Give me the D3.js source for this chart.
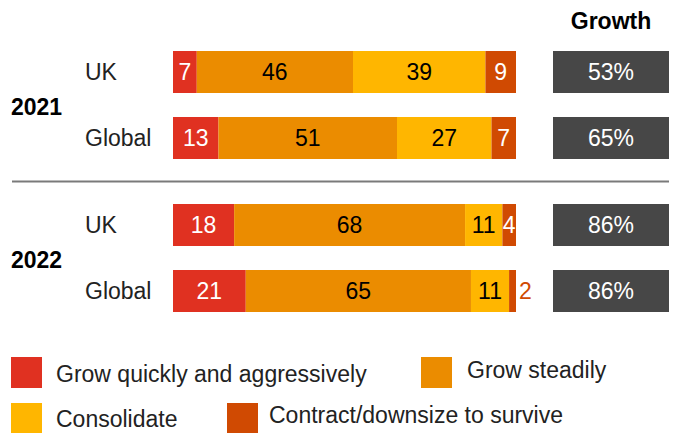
<!DOCTYPE html>
<html>
<head>
<meta charset="utf-8">
<script src="https://cdn.jsdelivr.net/npm/d3@7"></script>
<style>
  html, body { margin: 0; padding: 0; background: #fff; }
  svg { display: block; }
  text { font-family: "Liberation Sans", Arial, Helvetica, sans-serif; }
</style>
</head>
<body>
<svg id="chart" width="677" height="433"></svg>
<script>
// ---- data ----
const years = ["2021", "2022"];
const regions = ["UK", "Global"];
const seriesNames = ["Grow quickly and aggressively", "Grow steadily", "Consolidate", "Contract/downsize to survive"];
const growQuickly   = [7, 13, 18, 21];
const growSteadily  = [46, 51, 68, 65];
const consolidate   = [39, 27, 11, 11];
const contract      = [9, 7, 4, 2];
const growth        = [53, 65, 86, 86];
const growthTitle = "Growth";

const colors = ["#E03121", "#EB8C00", "#FFB600", "#D04A02"];
const labelColors = ["#fff", "#000", "#000", "#fff"];

const rows = [];
years.forEach((y, yi) => regions.forEach((r, ri) => {
  const i = yi * regions.length + ri;
  rows.push({ year: y, region: r, i,
    values: [growQuickly[i], growSteadily[i], consolidate[i], contract[i]],
    growth: growth[i] });
}));

const svg = d3.select("#chart");

// scales
const yGroup = d3.scaleBand().domain(years).range([40, 346]);
const yInner = d3.scaleBand().domain(regions).range([11, 119]).paddingInner(24 / 66).paddingOuter(0);
const x = d3.scaleLinear().domain([0, 1]).range([173, 516]);
const rowY = d => yGroup(d.year) + yInner(d.region);
const bh = yInner.bandwidth();

// separator
const sepY = ((yGroup("2021") + yInner("Global") + bh) + (yGroup("2022") + yInner("UK"))) / 2;
svg.append("line").attr("x1", 12).attr("x2", 669).attr("y1", sepY).attr("y2", sepY)
  .attr("stroke", "#7a7a7a").attr("stroke-width", 2);

// year labels
svg.selectAll("text.year").data(years).join("text").attr("class", "year")
  .attr("x", 11)
  .attr("y", d => yGroup(d) + (yInner("UK") + yInner("Global") + bh) / 2 + 2)
  .attr("dy", "0.36em")
  .attr("font-size", 23).attr("font-weight", "bold").attr("fill", "#000")
  .text(d => d);

// region labels
svg.selectAll("text.region").data(rows).join("text").attr("class", "region")
  .attr("x", 85).attr("y", d => rowY(d) + bh / 2).attr("dy", "0.36em")
  .attr("font-size", 23).attr("fill", "#222")
  .text(d => d.region);

// stacked segments
const rowG = svg.selectAll("g.row").data(rows).join("g").attr("class", "row");
rowG.each(function (d) {
  const total = d3.sum(d.values);
  let cum = 0;
  const segs = d.values.map((v, k) => {
    const s = { v, k, x0: cum / total, x1: (cum + v) / total };
    cum += v; return s;
  });
  const g = d3.select(this);
  g.selectAll("rect").data(segs).join("rect")
    .attr("x", s => x(s.x0)).attr("width", s => x(s.x1) - x(s.x0))
    .attr("y", rowY(d)).attr("height", bh)
    .attr("fill", s => colors[s.k]);
  g.selectAll("text").data(segs).join("text")
    .attr("x", s => (x(s.x1) - x(s.x0)) < 12 ? x(s.x1) + 3 : (x(s.x0) + x(s.x1)) / 2)
    .attr("text-anchor", s => (x(s.x1) - x(s.x0)) < 12 ? "start" : "middle")
    .attr("y", rowY(d) + bh / 2).attr("dy", "0.36em")
    .attr("font-size", 23)
    .attr("fill", s => (x(s.x1) - x(s.x0)) < 12 ? colors[3] : labelColors[s.k])
    .text(s => s.v);
});

// growth column
svg.append("text").attr("x", 611).attr("y", 29).attr("text-anchor", "middle")
  .attr("font-size", 23).attr("font-weight", "bold").attr("fill", "#000").text(growthTitle);
svg.selectAll("rect.growth").data(rows).join("rect").attr("class", "growth")
  .attr("x", 553).attr("width", 116).attr("y", d => rowY(d)).attr("height", bh)
  .attr("fill", "#474747");
svg.selectAll("text.growth").data(rows).join("text").attr("class", "growth")
  .attr("x", 611).attr("y", d => rowY(d) + bh / 2).attr("dy", "0.36em")
  .attr("text-anchor", "middle").attr("font-size", 23).attr("fill", "#fff")
  .text(d => d.growth + "%");

// legend
const legendPos = [
  { sx: 11, sy: 357, tx: 56, ty: 382 },
  { sx: 421, sy: 357, tx: 467, ty: 378 },
  { sx: 11, sy: 403, tx: 56, ty: 427 },
  { sx: 227, sy: 403, tx: 269, ty: 423 }
];
const leg = svg.selectAll("g.legend").data(seriesNames).join("g").attr("class", "legend");
leg.append("rect").attr("x", (d, i) => legendPos[i].sx).attr("y", (d, i) => legendPos[i].sy)
  .attr("width", 31).attr("height", 31).attr("fill", (d, i) => colors[i]);
leg.append("text").attr("x", (d, i) => legendPos[i].tx).attr("y", (d, i) => legendPos[i].ty)
  .attr("font-size", 23).attr("fill", "#222").text(d => d);
</script>
</body>
</html>
